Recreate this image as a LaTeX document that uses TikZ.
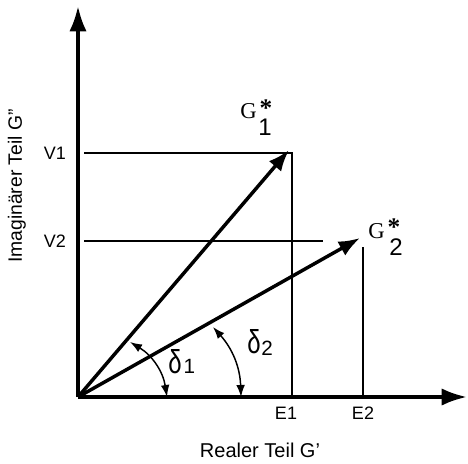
\documentclass[tikz,border=0pt]{standalone}
\usepackage{fontspec}
\setmainfont{Liberation Sans}
\newfontfamily\serifG{Liberation Serif}
\usetikzlibrary{arrows.meta}
\newcommand{\bigdelta}{\resizebox{10pt}{18pt}{δ}}
\begin{document}
\begin{tikzpicture}[x=0.75pt,y=-0.75pt,
  axis/.style={line width=2.7pt,-{Latex[length=19pt,width=13pt]}},
  vec/.style={line width=2.6pt,-{Latex[length=16pt,width=12pt]}},
  thin/.style={line width=1.2pt},
  angarrow/.style={line width=1.1pt,{Latex[length=9pt,width=6.5pt]}-{Latex[length=9pt,width=6.5pt]}},
  lab/.style={font=\fontsize{13.5pt}{15pt}\selectfont,inner sep=0pt},
  big/.style={font=\fontsize{15pt}{17pt}\selectfont,inner sep=0pt},
  glab/.style={font=\serifG\fontsize{17pt}{20pt}\selectfont,inner sep=0pt,anchor=base west},
  gstar/.style={font=\serifG\bfseries\fontsize{19pt}{20pt}\selectfont,inner sep=0pt,anchor=south},
  gnum/.style={font=\fontsize{18pt}{20pt}\selectfont,inner sep=0pt,anchor=north},
  dlab/.style={font=\fontsize{15.5pt}{17pt}\selectfont,inner sep=0pt,anchor=base west}]
\useasboundingbox (0,0) rectangle (468,464);
% key points
\coordinate (O) at (78,397);
\coordinate (X) at (467,397);
\coordinate (Y) at (78,6);
\coordinate (G1) at (289,150);
\coordinate (G2) at (360,238);
\coordinate (V1s) at (84,153);
\coordinate (C1) at (292,153);
\coordinate (E1b) at (292,397);
\coordinate (V2s) at (84,241);
\coordinate (V2e) at (323,241);
\coordinate (E2t) at (363,247);
\coordinate (E2b) at (363,397);
\coordinate (A1) at (167,397);
\coordinate (B1) at (130,342);
\coordinate (A2) at (241,397);
\coordinate (B2) at (213,327);
% thin guide lines
\draw[thin] (V1s) -- (C1) -- (E1b);
\draw[thin] (V2s) -- (V2e);
\draw[thin] (E2t) -- (E2b);
% axes
\draw[axis] (O) -- (X);
\draw[axis] (O) -- (Y);
% vectors
\draw[vec] (O) -- (G1);
\draw[vec] (O) -- (G2);
% angle arrows
\draw[angarrow] (A1) to[bend right=25] (B1);
\draw[angarrow] (A2) to[bend right=20] (B2);
% labels
\node[lab] (v1) at (55,153) {V1};
\node[lab] (v2) at (55,241) {V2};
\node[lab] (e1) at (286,413) {E1};
\node[lab] (e2) at (363,413) {E2};
\node[big] (xl) at (260,450) {Realer Teil G'};
\node[big,font=\fontsize{14.5pt}{17pt}\selectfont,rotate=90] (yl) at (17,186) {Imaginärer Teil G''};
\node[glab] (g1) at (240,118) {G};
\node[gstar] (g1s) at (266,117) {*};
\node[gnum] (g1n) at (265,119) {1};
\node[glab] (g2) at (368,238) {G};
\node[gstar] (g2s) at (394,236) {*};
\node[gnum] (g2n) at (396,238) {2};
\node[dlab] (d1) at (168,373) {\bigdelta\kern1.5pt 1};
\node[dlab] (d2) at (247,353) {\bigdelta\kern0.5pt\raisebox{-1.5pt}{2}};
\end{tikzpicture}
\end{document}
